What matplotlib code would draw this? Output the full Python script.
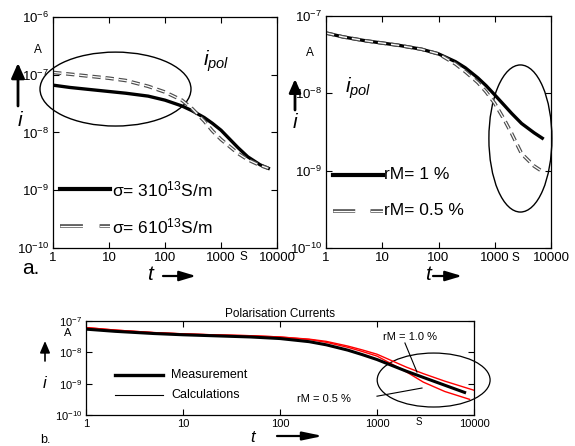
import numpy as np
import matplotlib
matplotlib.use("Agg")
import matplotlib.pyplot as plt
import matplotlib.patches as mpatches

plt.rcParams['font.family'] = ['Liberation Sans', 'DejaVu Sans']
plt.rcParams['mathtext.fontset'] = 'custom'
plt.rcParams['mathtext.rm'] = 'Liberation Sans'
plt.rcParams['mathtext.it'] = 'Liberation Sans:italic'
plt.rcParams['mathtext.default'] = 'regular'
plt.rcParams['lines.scale_dashes'] = False

# ---- data (log10 of current in A) ----
t_a = [1, 2, 5, 10, 20, 50, 100, 200, 300, 500, 700, 1000, 2000, 3000, 5000, 7000]
log_i_sigma3 = [-7.18, -7.22, -7.26, -7.29, -7.32, -7.37, -7.44, -7.54, -7.62,
                -7.74, -7.84, -7.96, -8.26, -8.42, -8.56, -8.62]
log_i_sigma6 = [-6.96, -6.99, -7.03, -7.06, -7.10, -7.20, -7.30, -7.44, -7.58,
                -7.80, -7.97, -8.12, -8.36, -8.47, -8.57, -8.62]

t_b = [1, 2, 5, 10, 20, 50, 100, 200, 300, 500, 700, 1000, 1500, 2000, 3000, 5000, 7000]
log_i_rm1 = [-7.22, -7.27, -7.32, -7.35, -7.38, -7.43, -7.49, -7.59, -7.67,
             -7.80, -7.90, -8.02, -8.16, -8.26, -8.39, -8.51, -8.58]
log_i_rm05 = [-7.22, -7.27, -7.32, -7.35, -7.38, -7.43, -7.49, -7.62, -7.72,
              -7.86, -7.98, -8.13, -8.35, -8.52, -8.78, -8.94, -9.01]

t_meas = [1, 2, 5, 10, 20, 50, 100, 200, 300, 500, 700, 1000, 2000, 3000, 5000, 8000]
log_i_meas = [-7.26, -7.33, -7.40, -7.44, -7.47, -7.51, -7.56, -7.66, -7.76,
              -7.93, -8.07, -8.23, -8.60, -8.80, -9.05, -9.28]
t_calc1 = [1, 2, 5, 10, 20, 50, 100, 200, 300, 500, 700, 1000, 2000, 3000, 5000, 10000]
log_i_calc1 = [-7.21, -7.29, -7.37, -7.41, -7.44, -7.47, -7.51, -7.58, -7.65,
               -7.80, -7.92, -8.06, -8.47, -8.68, -8.92, -9.21]
t_calc05 = [1, 2, 5, 10, 20, 50, 100, 200, 300, 500, 700, 1000, 2000, 3000, 5000, 9000]
log_i_calc05 = [-7.21, -7.29, -7.37, -7.41, -7.44, -7.47, -7.51, -7.59, -7.68,
                -7.84, -7.97, -8.12, -8.62, -8.95, -9.25, -9.50]

t_ticks = [1, 10, 100, 1000, 10000]
t_ticklabels = ['1', '10', '100', '1000', '10000']

W, H = 575, 446
fig = plt.figure(figsize=(W / 100, H / 100), dpi=100)


def px_rect(x0, y0, x1, y1):
    return [x0 / W, 1 - y1 / H, (x1 - x0) / W, (y1 - y0) / H]


def fx(x):
    return x / W


def fy(y):
    return 1 - y / H


def setup_log(ax, ylo, yhi, fs):
    ax.set_xscale('log')
    ax.set_yscale('log')
    ax.set_xlim(1, 10000)
    ax.set_ylim(10.0 ** ylo, 10.0 ** yhi)
    ax.set_xticks(t_ticks)
    ax.set_xticklabels(t_ticklabels, fontsize=fs)
    ex = list(range(ylo, yhi + 1))
    ax.set_yticks([10.0 ** e for e in ex])
    ax.set_yticklabels([r'$10^{%d}$' % e for e in ex], fontsize=fs)
    ax.minorticks_off()
    ax.tick_params(direction='in', top=True, right=True, length=4, width=0.8, pad=3)
    for s in ax.spines.values():
        s.set_linewidth(0.9)


def hollow(ax, x, y, dashes, transform=None, **kw):
    if transform is None:
        transform = ax.transData
    ax.plot(x, y, color='0.3', lw=2.6, dashes=dashes, dash_capstyle='butt',
            solid_capstyle='butt', transform=transform, **kw)
    ax.plot(x, y, color='white', lw=0.9, dashes=dashes, dash_capstyle='butt',
            solid_capstyle='butt', transform=transform, **kw)


def arrow(x0, y0, x1, y1, hw=3.5, hl=7, lw=1.6):
    # hw = half width of the head, hl = head length, both in points
    fig.add_artist(mpatches.FancyArrowPatch(
        (fx(x0), fy(y0)), (fx(x1), fy(y1)), transform=fig.transFigure,
        arrowstyle='-|>,head_width=%g,head_length=%g' % (hw, hl),
        mutation_scale=1, lw=lw, color='k', shrinkA=0, shrinkB=0))


# ---- panel a, left ----
ax1 = fig.add_axes(px_rect(53, 17, 277, 248))
setup_log(ax1, -10, -6, 9.5)
ax1.plot(t_a, 10.0 ** np.array(log_i_sigma3), color='k', lw=2.4)
hollow(ax1, t_a, 10.0 ** np.array(log_i_sigma6), (6, 3.5))
ax1.add_patch(mpatches.Ellipse((0.279, 0.688), 0.674, 0.32, transform=ax1.transAxes,
                               fill=False, lw=1, clip_on=False))
ax1.plot([0.03, 0.254], [0.255, 0.255], color='k', lw=3, transform=ax1.transAxes)
ax1.text(0.262, 0.255, r'$\sigma$= 310$^{13}$S/m', fontsize=12.5, va='center',
         transform=ax1.transAxes)
hollow(ax1, [0.03, 0.254], [0.095, 0.095], (16.5, 12), transform=ax1.transAxes)
ax1.text(0.262, 0.095, r'$\sigma$= 610$^{13}$S/m', fontsize=12.5, va='center',
         transform=ax1.transAxes)
ax1.text(0.67, 0.81, r'$\mathit{i}_{\mathit{pol}}$', fontsize=15, va='center',
         transform=ax1.transAxes)

# ---- panel a, right ----
ax2 = fig.add_axes(px_rect(326, 16, 551, 248))
setup_log(ax2, -10, -7, 9.5)
ax2.plot(t_b, 10.0 ** np.array(log_i_rm1), color='k', lw=2.4)
hollow(ax2, t_b, 10.0 ** np.array(log_i_rm05), (6, 3.5))
ax2.add_patch(mpatches.Ellipse((0.864, 0.472), 0.28, 0.634, transform=ax2.transAxes,
                               fill=False, lw=1, clip_on=False))
ax2.plot([0.031, 0.253], [0.315, 0.315], color='k', lw=3, transform=ax2.transAxes)
ax2.text(0.26, 0.315, 'rM= 1 %', fontsize=12.5, va='center', transform=ax2.transAxes)
hollow(ax2, [0.031, 0.253], [0.16, 0.16], (16, 11), transform=ax2.transAxes)
ax2.text(0.26, 0.16, 'rM= 0.5 %', fontsize=12.5, va='center', transform=ax2.transAxes)
ax2.text(0.084, 0.69, r'$\mathit{i}_{\mathit{pol}}$', fontsize=15, va='center',
         transform=ax2.transAxes)

# ---- panel b ----
ax3 = fig.add_axes(px_rect(86, 321, 474, 415))
setup_log(ax3, -10, -7, 8)
ax3.plot(t_calc1, 10.0 ** np.array(log_i_calc1), color='red', lw=1)
ax3.plot(t_calc05, 10.0 ** np.array(log_i_calc05), color='red', lw=1)
ax3.plot(t_meas, 10.0 ** np.array(log_i_meas), color='k', lw=2.2)
ax3.set_title('Polarisation Currents', fontsize=8.5, pad=3)
ax3.add_patch(mpatches.Ellipse((0.896, 0.372), 0.291, 0.574, transform=ax3.transAxes,
                               fill=False, lw=0.9, clip_on=False))
ax3.plot([0.075, 0.198], [0.426, 0.426], color='k', lw=2.4, transform=ax3.transAxes)
ax3.text(0.219, 0.426, 'Measurement', fontsize=9, va='center', transform=ax3.transAxes)
ax3.plot([0.075, 0.198], [0.213, 0.213], color='k', lw=0.8, transform=ax3.transAxes)
ax3.text(0.219, 0.213, 'Calculations', fontsize=9, va='center', transform=ax3.transAxes)
ax3.text(0.835, 0.83, 'rM = 1.0 %', fontsize=8, ha='center', va='center',
         transform=ax3.transAxes)
ax3.plot([0.822, 0.853], [0.766, 0.457], color='k', lw=0.8, transform=ax3.transAxes)
ax3.text(0.613, 0.17, 'rM = 0.5 %', fontsize=8, ha='center', va='center',
         transform=ax3.transAxes)
ax3.plot([0.75, 0.866], [0.2, 0.287], color='k', lw=0.8, transform=ax3.transAxes)

# ---- figure-level labels ----
for x, y in [(38, 50), (310, 53)]:
    fig.text(fx(x), fy(y), 'A', fontsize=8.5, ha='center', va='center')
fig.text(fx(68), fy(333), 'A', fontsize=8, ha='center', va='center')
for x, y in [(243, 257), (515, 258)]:
    fig.text(fx(x), fy(y), 'S', fontsize=8.5, ha='center', va='center')
fig.text(fx(419), fy(422), 'S', fontsize=7, ha='center', va='center')

fig.text(fx(20), fy(120), 'i', fontsize=15, style='italic', ha='center', va='center')
fig.text(fx(295), fy(123), 'i', fontsize=15, style='italic', ha='center', va='center')
fig.text(fx(45), fy(383), 'i', fontsize=12, style='italic', ha='center', va='center')
arrow(18, 106, 18, 63, hw=4, hl=9, lw=2)
arrow(295, 110, 295, 79, hw=3.5, hl=8, lw=2)
arrow(45, 361, 45, 341, hw=3, hl=7, lw=1.2)

fig.text(fx(150), fy(275), 't', fontsize=15, style='italic', ha='center', va='center')
fig.text(fx(428), fy(275), 't', fontsize=15, style='italic', ha='center', va='center')
fig.text(fx(253), fy(437), 't', fontsize=12, style='italic', ha='center', va='center')
arrow(163, 276, 196, 276, hw=3, hl=10, lw=1.6)
arrow(433, 276, 462, 276, hw=3, hl=10, lw=1.6)
arrow(277, 436, 323, 436, hw=2.5, hl=12, lw=1.6)

fig.text(fx(22), fy(269), 'a.', fontsize=15, ha='left', va='center')
fig.text(fx(40), fy(440), 'b.', fontsize=9, ha='left', va='center')

fig.savefig('out.png', dpi=100)
